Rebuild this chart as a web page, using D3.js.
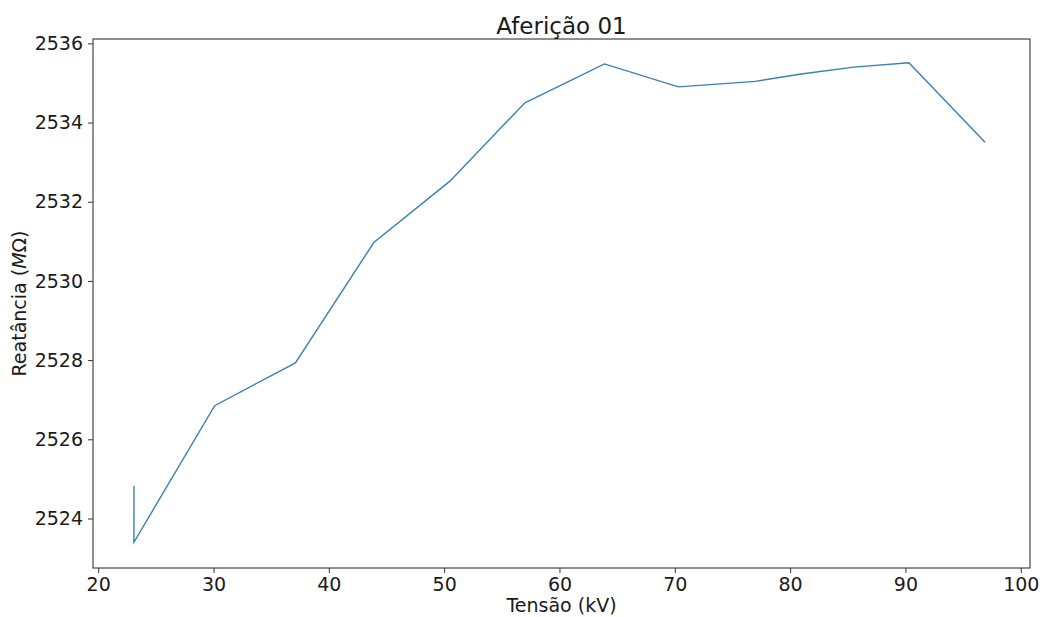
<!DOCTYPE html>
<html>
<head>
<meta charset="utf-8">
<script src="https://d3js.org/d3.v7.min.js"></script>
<style>
  body { margin: 0; background: #fff; }
  text { font-family: "DejaVu Sans", sans-serif; fill: #1a1a1a; }
</style>
</head>
<body>
<script>
// tension (kV) and reactance (MOhm)
const tensao = [23.1, 23.1, 30.1, 37.1, 43.9, 50.5, 57.0, 63.9, 70.3, 77.0, 80.8, 85.5, 90.3, 96.9]
const reatancia = [2524.82, 2523.40, 2526.85, 2527.93, 2530.97, 2532.52, 2534.50, 2535.48, 2534.90, 2535.04, 2535.22, 2535.40, 2535.51, 2533.50]

const xTicks = [20, 30, 40, 50, 60, 70, 80, 90, 100]
const yTicks = [2524, 2526, 2528, 2530, 2532, 2534, 2536]

const width = 1045,
      height = 617
const margin = {top: 39, right: 15, bottom: 49, left: 93}
const w = width - margin.left - margin.right,
      h = height - margin.top - margin.bottom

const svg = d3.select("body").append("svg")
    .attr("width", width)
    .attr("height", height)

const g = svg.append("g")
    .attr("transform", `translate(${margin.left},${margin.top})`)

const x = d3.scaleLinear()
    .domain([19.55, 100.8])
    .range([0, w])

const y = d3.scaleLinear()
    .domain([2522.75, 2536.11])
    .range([h, 0])

// axes
const xAxis = g.append("g")
    .attr("transform", `translate(0,${h})`)
    .call(d3.axisBottom(x).tickValues(xTicks).tickFormat(d3.format("d")).tickSize(5).tickPadding(5))
const yAxis = g.append("g")
    .call(d3.axisLeft(y).tickValues(yTicks).tickFormat(d3.format("d")).tickSize(5).tickPadding(5))

for (const ax of [xAxis, yAxis]) {
    ax.select(".domain").remove()
    ax.selectAll(".tick line").attr("stroke", "#333")
    ax.selectAll(".tick text").style("font-size", "19px").attr("fill", "#1a1a1a")
}

// frame
g.append("rect")
    .attr("width", w)
    .attr("height", h)
    .attr("fill", "none")
    .attr("stroke", "#444")
    .attr("stroke-width", 1.2)

// data line
const line = d3.line()
    .x((d, i) => x(tensao[i]))
    .y(d => y(d))

g.append("path")
    .datum(reatancia)
    .attr("d", line)
    .attr("fill", "none")
    .attr("stroke", "#3a7fb5")
    .attr("stroke-width", 1.4)

// title and labels
svg.append("text")
    .attr("x", margin.left + w / 2)
    .attr("y", 34)
    .attr("text-anchor", "middle")
    .style("font-size", "23px")
    .text("Aferição 01")

svg.append("text")
    .attr("x", margin.left + w / 2)
    .attr("y", 612)
    .attr("text-anchor", "middle")
    .style("font-size", "19px")
    .text("Tensão (kV)")

const yl = svg.append("text")
    .attr("transform", `translate(26,${margin.top + h / 2}) rotate(-90)`)
    .attr("text-anchor", "middle")
    .style("font-size", "19px")
yl.append("tspan").text("Reatância (")
yl.append("tspan").style("font-style", "italic").text("M")
yl.append("tspan").text("Ω)")
</script>
</body>
</html>
